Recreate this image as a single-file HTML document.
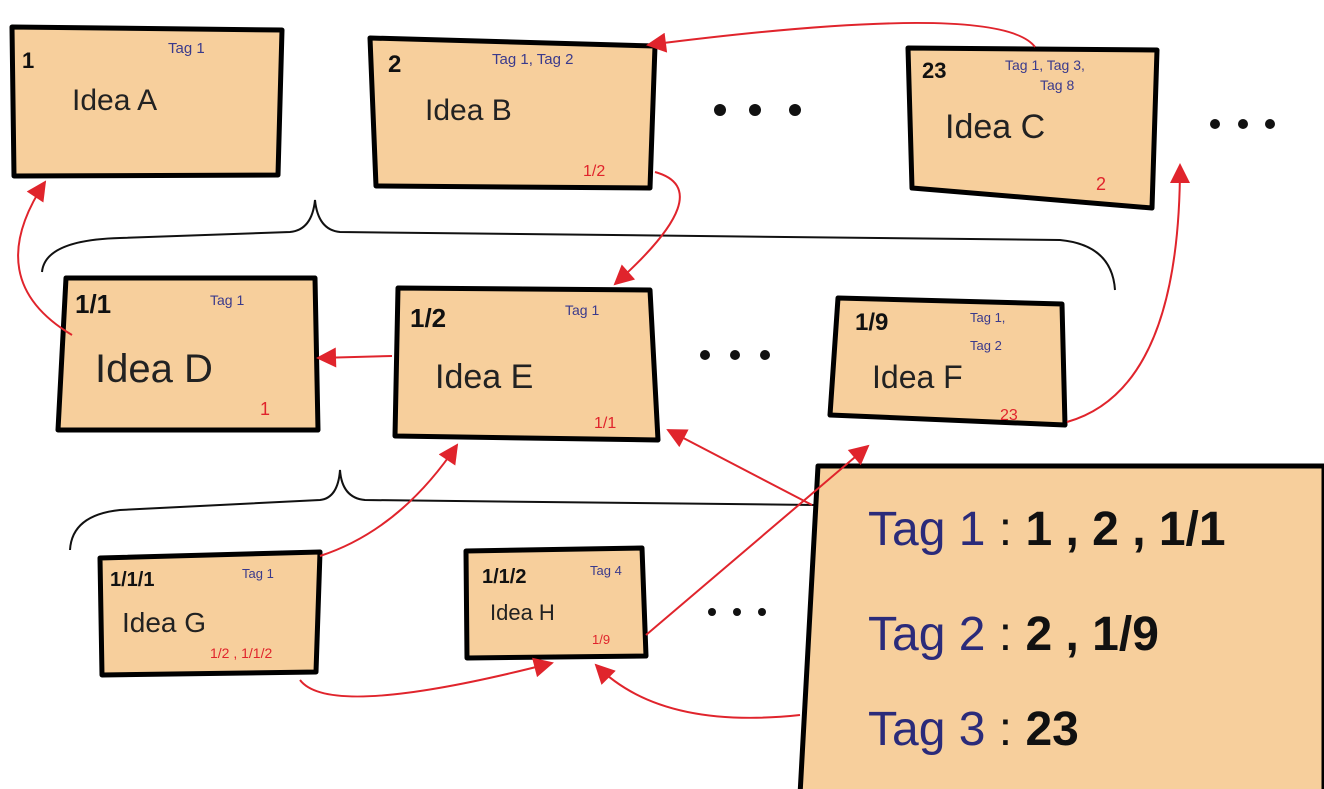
<!DOCTYPE html>
<html><head><meta charset="utf-8"><style>
html,body{margin:0;padding:0;background:#fff;}
svg{display:block;}
text{font-family:"Liberation Sans",sans-serif;}
.n{font-weight:bold;fill:#111;}
.t{fill:#3a3a8c;}
.i{fill:#222;}
.r{fill:#e0242c;}
.bx{fill:#F7CF9C;stroke:#000;stroke-width:5;stroke-linejoin:round;}
.ar{fill:none;stroke:#e0242c;stroke-width:2;}
</style></head><body>
<svg width="1324" height="789" viewBox="0 0 1324 789" xmlns="http://www.w3.org/2000/svg">
<defs>
<marker id="a" viewBox="0 0 10 10" refX="9" refY="5" markerWidth="24" markerHeight="20" markerUnits="userSpaceOnUse" orient="auto"><path d="M0,0L10,5L0,10z" fill="#e0242c"/></marker></defs>

<path d="M42,272 Q45,240 120,238 L290,232 Q312,230 315,200 Q318,230 340,232 L1060,240 Q1112,245 1115,290" fill="none" stroke="#111" stroke-width="2"/>
<path d="M70,550 Q72,515 120,510 L320,500 Q338,498 340,470 Q342,498 365,500 L815,505" fill="none" stroke="#111" stroke-width="2"/>

<path class="bx" d="M12,27 L282,30 L278,175 L14,176 Z"/>
<path class="bx" d="M370,38 L655,46 L650,188 L376,186 Z"/>
<path class="bx" d="M908,48 L1157,50 L1152,208 L912,188 Z"/>
<path class="bx" d="M66,278 L315,278 L318,430 L58,430 Z"/>
<path class="bx" d="M398,288 L650,290 L658,440 L395,436 Z"/>
<path class="bx" d="M838,298 L1062,304 L1065,425 L830,415 Z"/>
<path class="bx" d="M100,558 L320,552 L316,672 L102,675 Z"/>
<path class="bx" d="M466,551 L642,548 L646,656 L467,658 Z"/>
<path class="bx" d="M818,466 L1324,466 L1324,795 L800,795 Z"/>

<text class="n" x="22" y="68" font-size="22">1</text>
<text class="t" x="168" y="53" font-size="15">Tag 1</text>
<text class="i" x="72" y="110" font-size="30">Idea A</text>

<text class="n" x="388" y="72" font-size="24">2</text>
<text class="t" x="492" y="64" font-size="15">Tag 1, Tag 2</text>
<text class="i" x="425" y="120" font-size="30">Idea B</text>
<text class="r" x="583" y="176" font-size="16">1/2</text>

<text class="n" x="922" y="78" font-size="22">23</text>
<text class="t" x="1005" y="70" font-size="14">Tag 1, Tag 3,</text>
<text class="t" x="1040" y="90" font-size="14">Tag 8</text>
<text class="i" x="945" y="138" font-size="34">Idea C</text>
<text class="r" x="1096" y="190" font-size="18">2</text>

<text class="n" x="75" y="313" font-size="26">1/1</text>
<text class="t" x="210" y="305" font-size="14">Tag 1</text>
<text class="i" x="95" y="382" font-size="40">Idea D</text>
<text class="r" x="260" y="415" font-size="18">1</text>

<text class="n" x="410" y="327" font-size="26">1/2</text>
<text class="t" x="565" y="315" font-size="14">Tag 1</text>
<text class="i" x="435" y="388" font-size="34">Idea E</text>
<text class="r" x="594" y="428" font-size="16">1/1</text>

<text class="n" x="855" y="330" font-size="24">1/9</text>
<text class="t" x="970" y="322" font-size="13">Tag 1,</text>
<text class="t" x="970" y="350" font-size="13">Tag 2</text>
<text class="i" x="872" y="388" font-size="32">Idea F</text>
<text class="r" x="1000" y="420" font-size="16">23</text>

<text class="n" x="110" y="586" font-size="20">1/1/1</text>
<text class="t" x="242" y="578" font-size="13">Tag 1</text>
<text class="i" x="122" y="632" font-size="28">Idea G</text>
<text class="r" x="210" y="658" font-size="14">1/2 , 1/1/2</text>

<text class="n" x="482" y="583" font-size="20">1/1/2</text>
<text class="t" x="590" y="575" font-size="13">Tag 4</text>
<text class="i" x="490" y="620" font-size="22">Idea H</text>
<text class="r" x="592" y="644" font-size="13">1/9</text>

<text x="868" y="545" font-size="48" style="fill:#2b2b7a">Tag 1 <tspan fill="#111">:</tspan> <tspan font-weight="bold" fill="#111">1 , 2 , 1/1</tspan></text>
<text x="868" y="650" font-size="48" style="fill:#2b2b7a">Tag 2 <tspan fill="#111">:</tspan> <tspan font-weight="bold" fill="#111">2 , 1/9</tspan></text>
<text x="868" y="745" font-size="48" style="fill:#2b2b7a">Tag 3 <tspan fill="#111">:</tspan> <tspan font-weight="bold" fill="#111">23</tspan></text>

<g fill="#111">
<circle cx="720" cy="110" r="6"/><circle cx="755" cy="110" r="6"/><circle cx="795" cy="110" r="6"/>
<circle cx="1215" cy="124" r="5"/><circle cx="1243" cy="124" r="5"/><circle cx="1270" cy="124" r="5"/>
<circle cx="705" cy="355" r="5"/><circle cx="735" cy="355" r="5"/><circle cx="765" cy="355" r="5"/>
<circle cx="712" cy="612" r="4"/><circle cx="737" cy="612" r="4"/><circle cx="762" cy="612" r="4"/>
</g>

<path class="ar" marker-end="url(#a)" d="M72,335 Q-20,280 45,182"/>
<path class="ar" marker-end="url(#a)" d="M1035,47 Q1000,0 648,45"/>
<path class="ar" marker-end="url(#a)" d="M655,172 Q720,190 615,284"/>
<path class="ar" marker-end="url(#a)" d="M392,356 L318,358"/>
<path class="ar" marker-end="url(#a)" d="M1067,422 Q1180,390 1180,165"/>
<path class="ar" marker-end="url(#a)" d="M320,556 Q400,530 457,445"/>
<path class="ar" marker-end="url(#a)" d="M300,680 Q330,720 552,663"/>
<path class="ar" marker-end="url(#a)" d="M646,635 L868,446"/>
<path class="ar" marker-end="url(#a)" d="M812,505 L668,430"/>
<path class="ar" marker-end="url(#a)" d="M800,715 Q660,730 596,665"/>
</svg>
</body></html>
